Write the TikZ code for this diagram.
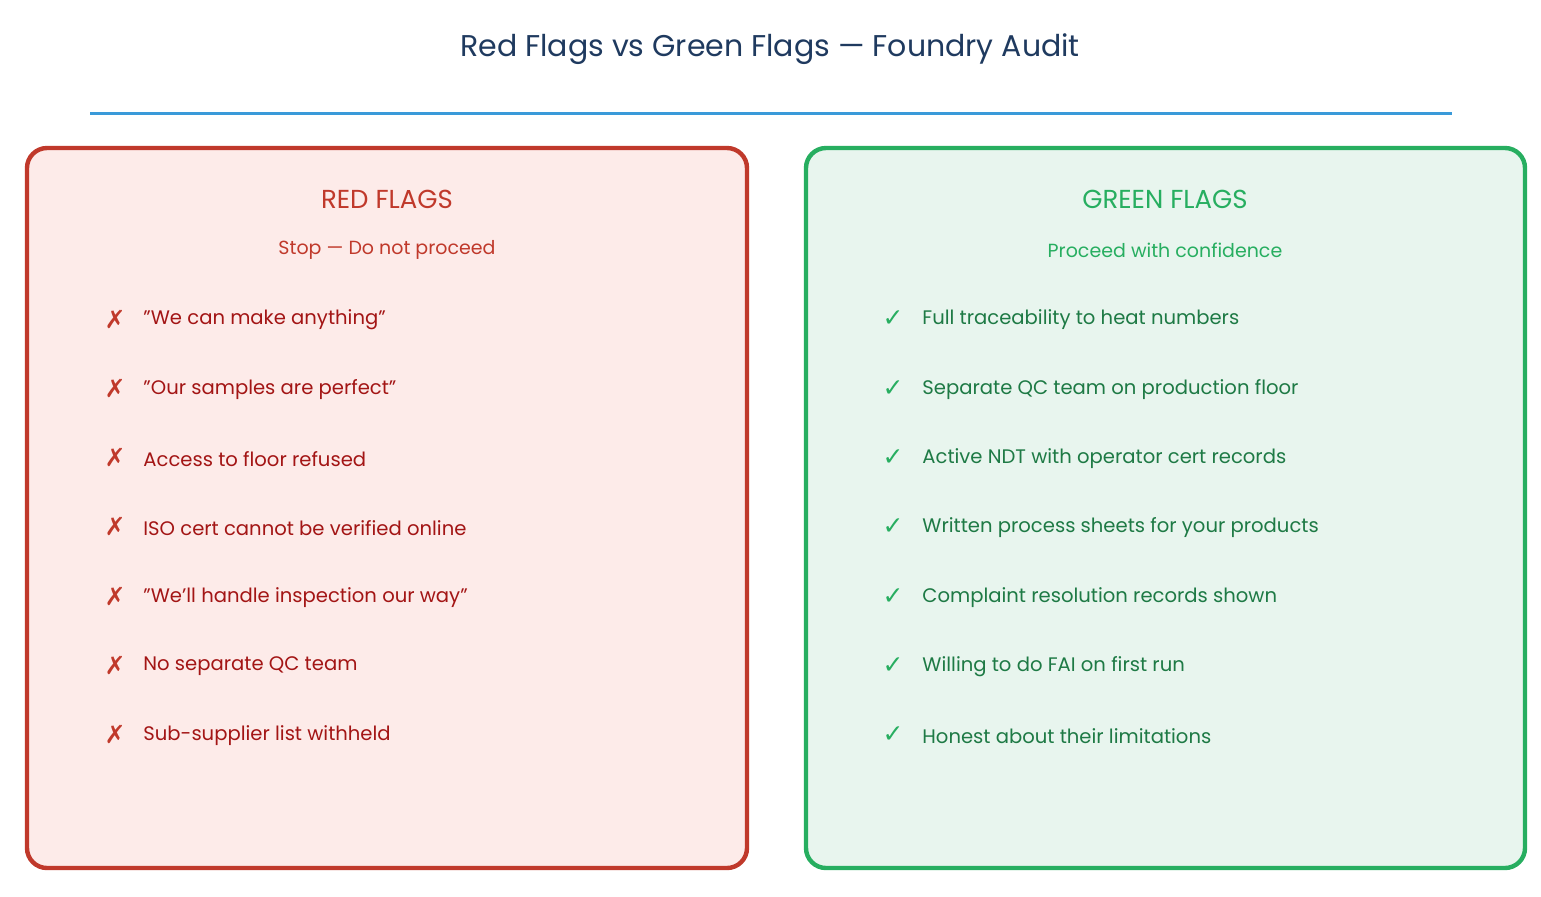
\documentclass[tikz,border=0pt]{standalone}
\usepackage{fontspec}
\setmainfont{Poppins}
\newfontfamily\symfont{DejaVu Sans}
\newcommand{\sq}{\symbol{34}}
\definecolor{redline}{HTML}{C0392B}
\definecolor{redfill}{HTML}{FDEBE9}
\definecolor{redtext}{HTML}{A31515}
\definecolor{greenline}{HTML}{27AE60}
\definecolor{greenfill}{HTML}{E8F5EE}
\definecolor{greentext}{HTML}{1E7A45}
\definecolor{titleblue}{HTML}{1F3A5F}
\definecolor{ruleblue}{HTML}{3A9AD9}
\tikzset{
	panel/.style={rounded corners=10pt, line width=2.2pt},
	item/.style={anchor=west, inner sep=0pt, font=\fontsize{9.8}{12}\selectfont},
	flagmark/.style={inner sep=0pt, font=\symfont\fontsize{12.5}{13}\selectfont}
}
\begin{document}
\begin{tikzpicture}[x=0.5pt,y=-0.5pt]
		\useasboundingbox (0,0) rectangle (1541,896);
		\node[font=\fontsize{15}{16}\selectfont,text=titleblue] (title) at (770,49) {Red Flags vs Green Flags — Foundry Audit};
		\draw[ruleblue,line width=1.5pt] (90,113) -- (1452,113);
		% red panel
		\draw[panel,draw=redline,fill=redfill] (27,148) rectangle (747,868);
		\node[font=\fontsize{13}{14}\selectfont,text=redline] (redhead) at (387,199) {RED FLAGS};
		\node[font=\fontsize{9.5}{11}\selectfont,text=redline] (redsub) at (387,250) {Stop — Do not proceed};
		\foreach \t [count=\i from 0] in {{\sq We can make anything\sq},{\sq Our samples are perfect\sq},{Access to floor refused},{ISO cert cannot be verified online},{\sq We'll handle inspection our way\sq},{No separate QC team},{Sub-supplier list withheld}}{
			\node[flagmark,text=redline] (rmark\i) at (115,319+69.3*\i) {✗};
			\node[item,text=redtext] (ritem\i) at (143,320+69.3*\i) {\t};
		}
		% green panel
		\draw[panel,draw=greenline,fill=greenfill] (806,148) rectangle (1525,868);
		\node[font=\fontsize{13}{14}\selectfont,text=greenline] (greenhead) at (1165,199) {GREEN FLAGS};
		\node[font=\fontsize{9.5}{11}\selectfont,text=greenline] (greensub) at (1165,250) {Proceed with confidence};
		\foreach \t [count=\i from 0] in {{Full traceability to heat numbers},{Separate QC team on production floor},{Active NDT with operator cert records},{Written process sheets for your products},{Complaint resolution records shown},{Willing to do FAI on first run},{Honest about their limitations}}{
			\node[flagmark,text=greenline] (gmark\i) at (893,319+69.3*\i) {✓};
			\node[item,text=greentext] (gitem\i) at (922,320+69.3*\i) {\t};
		}
\end{tikzpicture}
\end{document}
